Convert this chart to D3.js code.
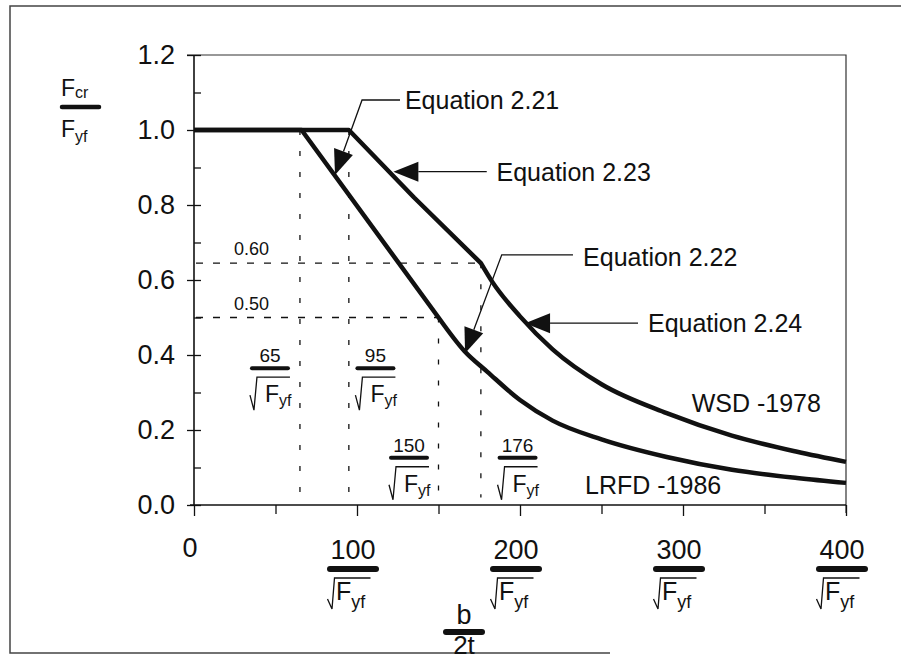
<!DOCTYPE html>
<html>
<head>
<meta charset="utf-8">
<script src="https://cdn.jsdelivr.net/npm/d3@7"></script>
<style>
  body { margin: 0; background: #fff; }
  text { font-family: "Liberation Sans", Arial, Helvetica, sans-serif; fill: #111; }
</style>
</head>
<body>
<div id="chart"></div>
<script>
// axis ticks
var yTicks = [0, 0.2, 0.4, 0.6, 0.8, 1.0, 1.2];
var yMinor = [0.1, 0.3, 0.5, 0.7, 0.9, 1.1];
var xTicks = [0, 100, 200, 300, 400];
var xMinor = [50, 150, 250, 350];
var xTickNum = ['0', '100', '200', '300', '400'];

// WSD -1978 curve (b/2t in units of 1/sqrt(Fyf), Fcr/Fyf)
var wsdBt  = [0, 95, 135, 176, 183, 200, 220, 250, 290, 330, 370, 400];
var wsdVal = [1.0, 1.0, 0.82, 0.645, 0.595, 0.503, 0.415, 0.322, 0.245, 0.185, 0.142, 0.115];
var wsdSmoothFrom = 3;   // index where the curved part starts

// LRFD -1986 curve
var lrfdBt  = [0, 66, 150, 166, 180, 200, 220, 250, 290, 330, 370, 400];
var lrfdVal = [1.0, 1.0, 0.5, 0.41, 0.355, 0.28, 0.225, 0.175, 0.128, 0.094, 0.072, 0.059];
var lrfdSmoothFrom = 2;

// dashed guides
var vGuideBt  = [65, 95, 150, 176];
var vGuideTop = [1.0, 1.0, 0.5, 0.645];
var hGuideVal = [0.645, 0.5];
var hGuideEnd = [176, 150];
var hGuideTxt = ['0.60', '0.50'];

// limit fractions inside the plot
var limNum = ['65', '95', '150', '176'];
var limBt  = [46.6, 111.3, 131.9, 198.5];
var limVal = [0.365, 0.365, 0.126, 0.126];

// equation call-outs: leader from text to arrow tip
var eqText = ['Equation 2.21', 'Equation 2.23', 'Equation 2.22', 'Equation 2.24'];
var eqLeader = [
  [[126.4, 1.08], [103.1, 1.08], [86.5, 0.88]],
  [[179.6, 0.889], [122.3, 0.889]],
  [[232.5, 0.667], [188.8, 0.667], [166.3, 0.405]],
  [[272.4, 0.485], [203.1, 0.485]]
];
var eqLabelAt = [[129.4, 1.08], [185.6, 0.889], [238.7, 0.662], [278.5, 0.485]];

var curveText = ['WSD -1978', 'LRFD -1986'];
var curveTextAt = [[305.3, 0.271], [239.9, 0.053]];

var W = 901, H = 661;
var x = d3.scaleLinear().domain([0, 400]).range([194, 846]);
var y = d3.scaleLinear().domain([0, 1.2]).range([505, 55]);
var ink = '#111';

var svg = d3.select('#chart').append('svg')
    .attr('width', W).attr('height', H);

// outer border of the figure (scan shows left, top and part of bottom)
svg.append('path')
    .attr('d', 'M901,6 L10,6 L10,653 L610,653')
    .attr('fill', 'none').attr('stroke', '#444').attr('stroke-width', 1.5);

// plot frame
svg.append('path')
    .attr('d', 'M' + (x(0) - 7) + ',' + y(1.2) + 'L' + x(400) + ',' + y(1.2) + 'L' + x(400) + ',' + (y(0) + 8))
    .attr('fill', 'none').attr('stroke', '#333').attr('stroke-width', 1.2);

// y axis: outside major ticks with labels, inside ticks for all
var yAxis = svg.append('g')
    .attr('transform', 'translate(' + x(0) + ',0)')
    .call(d3.axisLeft(y).tickValues(yTicks).tickSize(7).tickPadding(12).tickFormat(d3.format('.1f')));
svg.append('g')
    .attr('transform', 'translate(' + x(0) + ',0)')
    .call(d3.axisRight(y).tickValues(yTicks.concat(yMinor)).tickSize(7).tickFormat(''));

// x axis ticks
svg.append('g')
    .attr('transform', 'translate(0,' + y(0) + ')')
    .call(d3.axisBottom(x).tickValues(xTicks).tickSize(11).tickFormat(''));
svg.append('g')
    .attr('transform', 'translate(0,' + y(0) + ')')
    .call(d3.axisBottom(x).tickValues(xMinor).tickSize(9).tickFormat(''));

svg.selectAll('.domain').remove();
svg.selectAll('.tick line').attr('stroke', ink).attr('stroke-width', 1.3);
yAxis.selectAll('text').style('font-size', '27px').attr('fill', ink);

// axis lines
svg.append('line').attr('x1', x(0)).attr('x2', x(0)).attr('y1', y(1.2)).attr('y2', y(0))
    .attr('stroke', ink).attr('stroke-width', 1.6);
svg.append('line').attr('x1', x(0) - 4).attr('x2', x(400)).attr('y1', y(0)).attr('y2', y(0))
    .attr('stroke', ink).attr('stroke-width', 1.6);

// dashed guides
svg.selectAll('.vguide').data(vGuideBt).enter().append('line')
    .attr('class', 'vguide')
    .attr('x1', function(d) { return x(d); }).attr('x2', function(d) { return x(d); })
    .attr('y1', function(d, i) { return y(vGuideTop[i]); })
    .attr('y2', y(0.02))
    .attr('stroke', ink).attr('stroke-width', 1.3).attr('stroke-dasharray', '5,16');
svg.selectAll('.hguide').data(hGuideVal).enter().append('line')
    .attr('class', 'hguide')
    .attr('x1', x(0) + 2).attr('x2', function(d, i) { return x(hGuideEnd[i]); })
    .attr('y1', function(d) { return y(d); }).attr('y2', function(d) { return y(d); })
    .attr('stroke', ink).attr('stroke-width', 1.3).attr('stroke-dasharray', '7,10');
svg.selectAll('.hguideTxt').data(hGuideTxt).enter().append('text')
    .attr('x', x(24.5)).attr('y', function(d, i) { return y(hGuideVal[i]) - 8; })
    .style('font-size', '18px').text(function(d) { return d; });

// the two curves: straight part then curved part
function drawSeries(bt, val, from) {
  var pts = bt.map(function(d, i) { return [x(d), y(val[i])]; });
  var straight = d3.line().curve(d3.curveLinear)(pts.slice(0, from + 1));
  var bent = d3.line().curve(d3.curveMonotoneX)(pts.slice(from));
  svg.append('path').attr('d', straight + bent.replace(/^M/, 'L'))
      .attr('fill', 'none').attr('stroke', ink).attr('stroke-width', 4.5)
      .attr('stroke-linejoin', 'round');
}
drawSeries(wsdBt, wsdVal, wsdSmoothFrom);
drawSeries(lrfdBt, lrfdVal, lrfdSmoothFrom);

// radical sign with F_yf under a fraction bar
function radical(g, cx, by, o) {
  g.append('path')
      .attr('d', 'M' + (cx + o.hook[0]) + ',' + (by + o.hook[1]) +
                 'L' + (cx + o.bot[0]) + ',' + (by + o.bot[1]) +
                 'L' + (cx + o.top[0]) + ',' + (by + o.top[1]) +
                 'L' + (cx + o.end) + ',' + (by + o.top[1]))
      .attr('fill', 'none').attr('stroke', ink).attr('stroke-width', 1.3);
  var t = g.append('text').attr('x', cx + o.fx).attr('y', by + o.fy).style('font-size', o.fs + 'px');
  t.append('tspan').text('F');
  t.append('tspan').attr('dy', o.subDy).style('font-size', o.ss + 'px').text('yf');
}

function fraction(cx, by, num, o) {
  var g = svg.append('g');
  g.append('text').attr('x', cx).attr('y', by + o.numDy)
      .attr('text-anchor', 'middle').style('font-size', o.ns + 'px').text(num);
  g.append('line')
      .attr('x1', cx - o.bw / 2 + o.bh / 2).attr('x2', cx + o.bw / 2 - o.bh / 2)
      .attr('y1', by).attr('y2', by)
      .attr('stroke', ink).attr('stroke-width', o.bh).attr('stroke-linecap', 'round');
  radical(g, cx, by, o);
}

var small = { ns: 19, numDy: -6, bw: 40, bh: 4,
  hook: [-20, 27], bot: [-16, 42], top: [-13, 9], end: 20,
  fx: -5, fy: 34, fs: 23, ss: 16, subDy: 4 };
var big = { ns: 27, numDy: -10, bw: 52, bh: 6,
  hook: [-25.5, 30], bot: [-21, 40], top: [-18.5, 9], end: 17.5,
  fx: -17, fy: 31, fs: 25, ss: 18, subDy: 8 };

limNum.forEach(function(n, i) {
  fraction(x(limBt[i]), y(limVal[i]), n, small);
});

// x tick labels
xTicks.forEach(function(d, i) {
  if (d === 0) {
    svg.append('text').attr('x', x(d) - 4).attr('y', 557)
        .attr('text-anchor', 'middle').style('font-size', '27px').text(xTickNum[i]);
  } else {
    fraction(x(d) - 4, 569, xTickNum[i], big);
  }
});

// x axis title b / 2t
svg.append('text').attr('x', 464).attr('y', 624).attr('text-anchor', 'middle')
    .style('font-size', '27px').text('b');
svg.append('line').attr('x1', 446).attr('x2', 482).attr('y1', 632).attr('y2', 632)
    .attr('stroke', ink).attr('stroke-width', 6).attr('stroke-linecap', 'round');
svg.append('text').attr('x', 464).attr('y', 654).attr('text-anchor', 'middle')
    .style('font-size', '26px').text('2t');

// y axis title Fcr / Fyf
var yt = svg.append('text').attr('x', 61).attr('y', 96).style('font-size', '23px');
yt.append('tspan').text('F');
yt.append('tspan').attr('dy', 2).style('font-size', '16px').text('cr');
svg.append('line').attr('x1', 62).attr('x2', 99).attr('y1', 107).attr('y2', 107)
    .attr('stroke', ink).attr('stroke-width', 4.5).attr('stroke-linecap', 'round');
var yb = svg.append('text').attr('x', 61).attr('y', 137).style('font-size', '23px');
yb.append('tspan').text('F');
yb.append('tspan').attr('dy', 5).style('font-size', '16px').text('yf');

// equation call-outs
eqLeader.forEach(function(pts, i) {
  var p = pts.map(function(d) { return [x(d[0]), y(d[1])]; });
  var tip = p[p.length - 1], prev = p[p.length - 2];
  var dx = tip[0] - prev[0], dy = tip[1] - prev[1];
  var len = Math.sqrt(dx * dx + dy * dy), ux = dx / len, uy = dy / len;
  var L = 25, hw = 10;
  var bx = tip[0] - ux * L, byy = tip[1] - uy * L;
  var line = p.slice(0, p.length - 1).concat([[bx, byy]]);
  svg.append('path').attr('d', d3.line()(line))
      .attr('fill', 'none').attr('stroke', ink).attr('stroke-width', 1.3);
  svg.append('path')
      .attr('d', 'M' + tip[0] + ',' + tip[1] +
                 'L' + (bx - uy * hw) + ',' + (byy + ux * hw) +
                 'L' + (bx + uy * hw) + ',' + (byy - ux * hw) + 'Z')
      .attr('fill', ink);
  svg.append('text')
      .attr('x', x(eqLabelAt[i][0])).attr('y', y(eqLabelAt[i][1]))
      .attr('dy', '0.36em').style('font-size', '25px').text(eqText[i]);
});

curveText.forEach(function(t, i) {
  svg.append('text')
      .attr('x', x(curveTextAt[i][0])).attr('y', y(curveTextAt[i][1]))
      .attr('dy', '0.36em').style('font-size', '25px').text(t);
});
</script>
</body>
</html>
